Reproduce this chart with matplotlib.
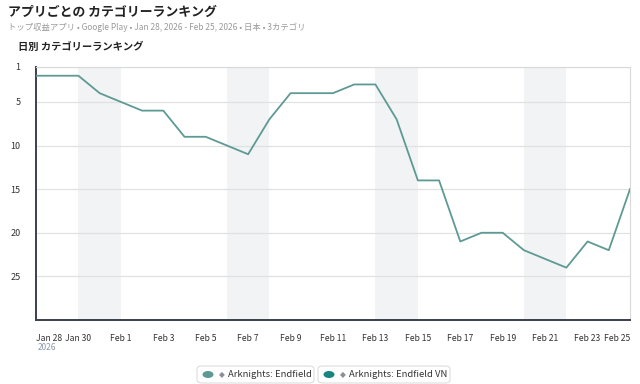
import datetime as dt
import matplotlib
matplotlib.use("Agg")
import matplotlib.pyplot as plt
from matplotlib.patches import FancyBboxPatch, Ellipse

plt.rcParams['font.family'] = ['Noto Sans CJK JP', 'DejaVu Sans']

# data
start = dt.date(2026, 1, 28)
ranks = [2, 2, 2, 4, 5, 6, 6, 9, 9, 10, 11, 7, 4, 4, 4, 3, 3, 7, 14, 14,
         21, 20, 20, 22, 23, 24, 21, 22, 15]
dates = [start + dt.timedelta(days=i) for i in range(len(ranks))]
weekend_starts = [dt.date(2026, 1, 30), dt.date(2026, 2, 6),
                  dt.date(2026, 2, 13), dt.date(2026, 2, 20)]
tick_dates = [dt.date(2026, 1, 28) + dt.timedelta(days=2 * i) for i in range(15)]
tick_labels = ["Jan 28", "Jan 30"] + ["Feb %d" % d for d in range(1, 26, 2)]
y_ticks = [1, 5, 10, 15, 20, 25]
series_names = ["Arknights: Endfield", "Arknights: Endfield VN"]
series_colors = ["#5e9a94", "#17867f"]

fig = plt.figure(figsize=(6.4, 3.84), dpi=100)
ax = fig.add_axes([36 / 640, 1 - 320 / 384, 594 / 640, 253 / 384])

for ws in weekend_starts:
    ax.axvspan(ws, ws + dt.timedelta(days=2), color="#f2f3f5", lw=0, zorder=0)

ax.plot(dates, ranks, color=series_colors[0], lw=1.3, zorder=3)

ax.set_xlim(dates[0], dates[-1])
ax.set_ylim(30, 1)
ax.set_yticks(y_ticks)
ax.set_yticklabels([str(v) for v in y_ticks], fontsize=6.5, color="#333333")
ax.yaxis.grid(True, color="#e1e1e1", lw=0.9)
ax.set_axisbelow(True)

ax.set_xticks(tick_dates)
ax.set_xticklabels(tick_labels, fontsize=6.2, color="#333333")
ax.get_xticklabels()[0].set_horizontalalignment("left")
ax.get_xticklabels()[-1].set_horizontalalignment("right")
ax.tick_params(axis="both", length=0, pad=10)
ax.tick_params(axis="y", pad=11)

for s in ["top", "right"]:
    ax.spines[s].set_color("#d9d9d9")
    ax.spines[s].set_linewidth(0.8)
for s in ["left", "bottom"]:
    ax.spines[s].set_color("#3a3f4a")
    ax.spines[s].set_linewidth(1.4)

# titles
fig.text(8 / 640, 1 - 12 / 384, "アプリごとの カテゴリーランキング", fontsize=9.3,
         fontweight="bold", color="#222222", va="center")
fig.text(8 / 640, 1 - 27 / 384,
         "トップ収益アプリ • Google Play • Jan 28, 2026 - Feb 25, 2026 • 日本 • 3カテゴリ",
         fontsize=6.0, color="#9a9a9a", va="center")
fig.text(18 / 640, 1 - 47 / 384, "日別 カテゴリーランキング", fontsize=7.4,
         fontweight="bold", color="#222222", va="center")
fig.text(38 / 640, 1 - 347 / 384, "2026", fontsize=6.0, color="#8a97a8", va="center")

# legend pills
boxes = [(197, 314), (318, 450)]
for (x0, x1), name, col in zip(boxes, series_names, series_colors):
    y0, y1 = 366, 383
    fig.patches.append(FancyBboxPatch((x0 / 640, 1 - y1 / 384), (x1 - x0) / 640,
                                      (y1 - y0) / 384,
                                      boxstyle="round,pad=0,rounding_size=0.008",
                                      transform=fig.transFigure, fc="white",
                                      ec="#dddddd", lw=0.8))
    yc = 1 - (y0 + y1) / 2 / 384
    fig.patches.append(Ellipse(((x0 + 11) / 640, yc), 11 / 640, 7 / 384,
                               transform=fig.transFigure, fc=col, ec="none"))
    fig.text((x0 + 25) / 640, yc, "◆", fontsize=5.5, color="#8a8f99",
             ha="center", va="center", family=['DejaVu Sans'])
    fig.text((x0 + 31) / 640, yc, name, fontsize=6.8, color="#333333", va="center")

fig.savefig("out.png", dpi=100)
